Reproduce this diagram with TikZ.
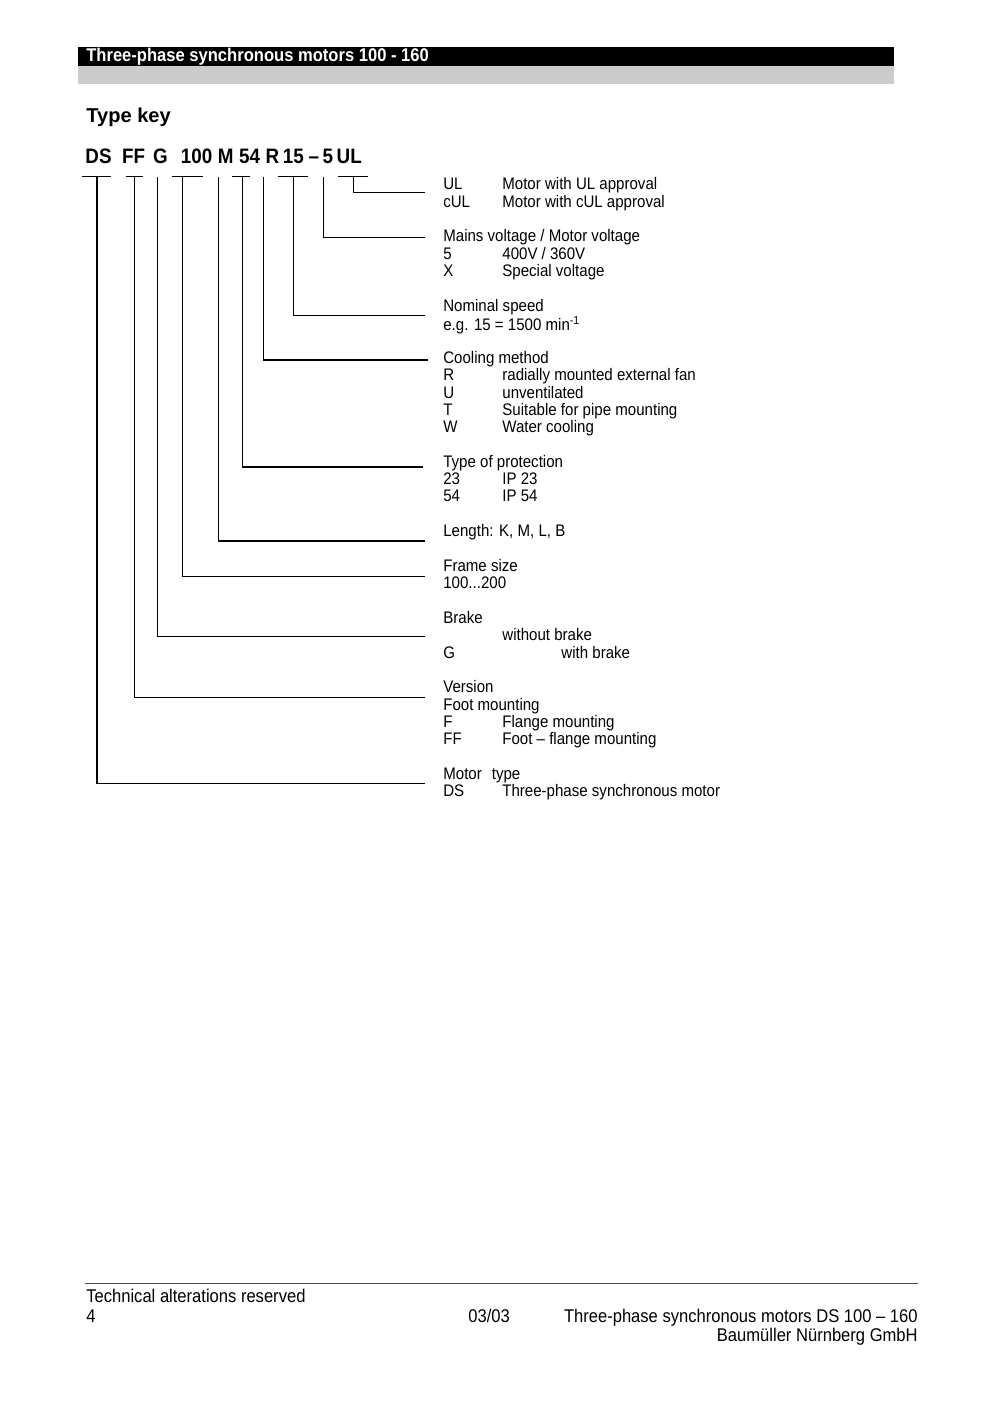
\documentclass[tikz,border=0pt]{standalone}
\usepackage{fontspec}
\setmainfont{Liberation Sans}[FakeStretch=0.9]
\newfontfamily\keyfont{Liberation Sans}
\newfontfamily\codefont{Liberation Sans}[FakeStretch=0.9]
\newcommand{\keycol}[1]{\makebox[12.4mm][l]{#1}}
\newcommand{\keyblock}[1]{\begin{tabular}[t]{@{}l@{}}#1\end{tabular}}

\tikzset{
    keyline/.style={line width=0.6pt},
    code/.style={anchor=base, inner sep=0pt, font=\codefont\fontsize{12.5}{14}\selectfont\bfseries},
    desc/.style={anchor=base west, inner sep=0pt, font=\fontsize{10}{10.33}\selectfont},
    foot/.style={inner sep=0pt, font=\fontsize{11}{13}\selectfont},
}

\begin{document}
\begin{tikzpicture}[x=0.21mm,y=-0.21mm]
    \useasboundingbox (0,0) rectangle (1000,1412);

    % header bar
    \fill[black] (78,47) rectangle (894,66);
    \fill[black!20] (78,66) rectangle (894,84);
    \node[anchor=base west, inner sep=0pt, text=white, font=\fontsize{11}{13}\selectfont\bfseries] (title) at (86,62) {Three-phase synchronous motors 100 - 160};

    \node[anchor=base west, inner sep=0pt, font=\keyfont\fontsize{12}{14}\selectfont\bfseries] (typekey) at (86,123) {Type key};

    % the type code
    \foreach \x/\t/\n in {98.5/DS/cDS,133.5/FF/cFF,160.5/G/cG,196.7/100/c100,225.8/M/cM,249.5/54/c54,272.3/R/cR,293.3/15/c15,313.8/\textendash/cdash,327.8/5/c5,349.2/UL/cUL}
        \node[code] (\n) at (\x,164) {\t};

    % underline bars
    \foreach \a/\b in {82/111,126/143,172/203,232/250,278/308,338/368}
        \draw[keyline] (\a,177) -- (\b,177);

    % leaders from the code to the descriptions
    \foreach \n/\vx/\hy/\ex in {DS/97/783/425,FF/134/697/425,G/157/636/425,S100/182/576/425,M/218/541/425,P54/242/467/423,R/263/360/428,N15/293/316/425,V5/323/238/425,UL/353/193/425}
    {
        \coordinate (t\n) at (\vx,177);
        \coordinate (e\n) at (\ex,\hy);
        \draw[keyline] (t\n) |- (e\n);
    }

    % descriptions
    \node[desc] (dUL) at (443,190) {\keyblock{\keycol{UL}Motor with UL approval\\\keycol{cUL}Motor with cUL approval}};
    \node[desc] (dV5) at (443,242) {\keyblock{Mains voltage / Motor voltage\\\keycol{5}400V / 360V\\\keycol{X}Special voltage}};
    \node[desc] (dN15) at (443,311.4) {\keyblock{Nominal speed\\e.g. 15 = 1500 min\textsuperscript{-1}}};
    \node[desc] (dR) at (443,363.4) {\keyblock{Cooling method\\\keycol{R}radially mounted external fan\\\keycol{U}unventilated\\\keycol{T}Suitable for pipe mounting\\\keycol{W}Water cooling}};
    \node[desc] (dP54) at (443,467.4) {\keyblock{Type of protection\\\keycol{23}IP 23\\\keycol{54}IP 54}};
    \node[desc] (dM) at (443,536.8) {\keyblock{Length: K, M, L, B}};
    \node[desc] (dS100) at (443,571.5) {\keyblock{Frame size\\100...200}};
    \node[desc] (dG) at (443,623.5) {\keyblock{Brake\\\keycol{}without brake\\\keycol{G}\keycol{}with brake}};
    \node[desc] (dFF) at (443,692.9) {\keyblock{Version\\Foot mounting\\\keycol{F}Flange mounting\\\keycol{FF}Foot -- flange mounting}};
    \node[desc] (dDS) at (443,779.6) {\keyblock{Motor\hspace{0.6em}type\\\keycol{DS}Three-phase synchronous motor}};

    % footer
    \draw[line width=0.6pt, black!70] (85,1283) -- (918,1283);
    \node[foot, anchor=base west] (remark) at (86,1302.6) {Technical alterations reserved};
    \node[foot, anchor=base west] (page) at (86,1322.6) {4};
    \node[foot, anchor=base west] (date) at (468,1322.6) {03/03};
    \node[foot, anchor=base east] (doc) at (918,1322.6) {Three-phase synchronous motors DS 100 -- 160};
    \node[foot, anchor=base east] (company) at (918,1341.6) {Baumüller Nürnberg GmbH};
\end{tikzpicture}
\end{document}
